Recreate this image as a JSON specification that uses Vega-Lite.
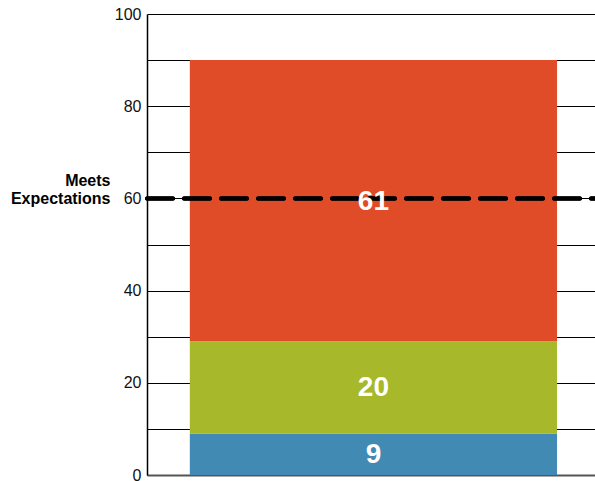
{
  "$schema": "https://vega.github.io/schema/vega-lite/v6.json",
  "width": 448,
  "height": 461,
  "autosize": {"type": "none"},
  "padding": {"left": 147, "top": 14, "right": 0, "bottom": 6},
  "config": {
    "view": {"stroke": null},
    "font": "Liberation Sans"
  },
  "data": {
    "values": [
      {"group": "Score", "level": "Below", "order": 1, "value": 9},
      {"group": "Score", "level": "Approaching", "order": 2, "value": 20},
      {"group": "Score", "level": "Meets", "order": 3, "value": 61}
    ]
  },
  "transform": [
    {"stack": "value", "groupby": ["group"], "sort": [{"field": "order"}], "as": ["y0", "y1"]},
    {"calculate": "(datum.y0 + datum.y1) / 2", "as": "ymid"}
  ],
  "resolve": {"axis": {"y": "independent"}},
  "layer": [
    {
      "mark": {"type": "bar"},
      "encoding": {
        "x": {
          "field": "group", "type": "nominal",
          "scale": {"paddingInner": 0, "paddingOuter": 0.11, "align": 0.53},
          "axis": {"title": null, "labels": false, "ticks": false, "domain": true, "domainColor": "#555555", "domainWidth": 2, "grid": false}
        },
        "y": {
          "field": "y0", "type": "quantitative",
          "scale": {"domain": [0, 100], "nice": false},
          "axis": {
            "title": null,
            "values": [0, 10, 20, 30, 40, 50, 60, 70, 80, 90, 100],
            "labelExpr": "datum.value % 20 === 0 ? datum.label : ''",
            "ticks": false,
            "labelPadding": 6,
            "labelFontSize": 16,
            "labelColor": "#111111",
            "domainColor": "#000000",
            "domainWidth": 1.5,
            "grid": true,
            "gridColor": "#000000",
            "gridWidth": 1,
            "gridOpacity": 1
          }
        },
        "y2": {"field": "y1"},
        "color": {
          "field": "level", "type": "nominal",
          "scale": {"domain": ["Below", "Approaching", "Meets"], "range": ["#418AB3", "#A7B82A", "#E04B28"]},
          "legend": null
        }
      }
    },
    {
      "mark": {"type": "rule", "color": "#000000", "strokeWidth": 4, "strokeDash": [26, 11], "strokeDashOffset": 22, "strokeCap": "round"},
      "encoding": {
        "y": {
          "datum": 60, "type": "quantitative",
          "axis": {
            "title": null,
            "orient": "left",
            "values": [60],
            "labelExpr": "['Meets', 'Expectations']",
            "labelFontWeight": "bold",
            "labelFontSize": 16,
            "labelLineHeight": 18,
            "labelColor": "#000000",
            "labelAlign": "right",
            "labelBaseline": "alphabetic",
            "labelOffset": -13,
            "labelPadding": 37,
            "offset": 0,
            "ticks": false,
            "domain": false,
            "grid": false
          }
        }
      }
    },
    {
      "mark": {"type": "text", "color": "#FFFFFF", "fontWeight": "bold", "fontSize": 28, "baseline": "middle", "align": "center", "dy": 1},
      "encoding": {
        "x": {"field": "group", "type": "nominal"},
        "y": {"field": "ymid", "type": "quantitative"},
        "text": {"field": "value", "type": "quantitative"}
      }
    }
  ]
}
